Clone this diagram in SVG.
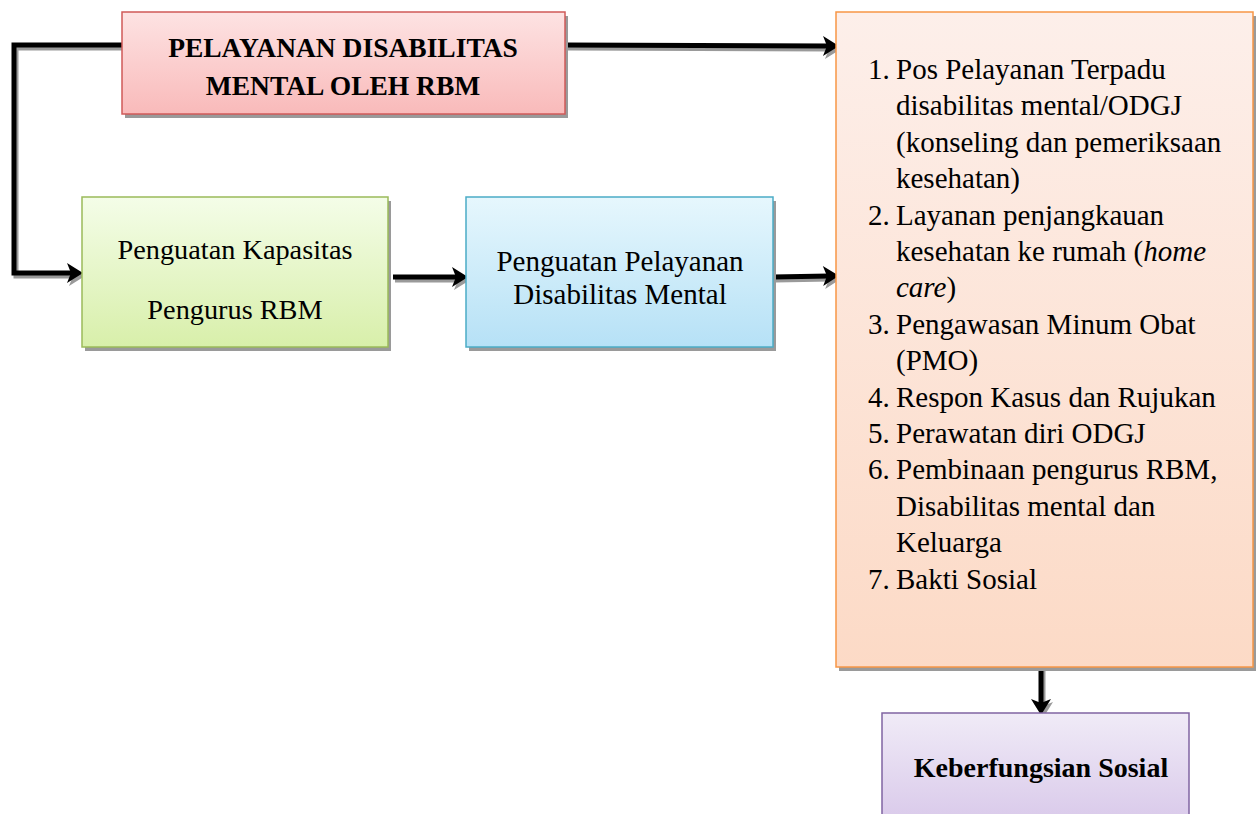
<svg xmlns="http://www.w3.org/2000/svg" width="1256" height="814" viewBox="0 0 1256 814">
<defs>
<linearGradient id="gRed" x1="0" y1="0" x2="0" y2="1"><stop offset="0" stop-color="#fde3e3"/><stop offset="1" stop-color="#f9baba"/></linearGradient>
<linearGradient id="gGreen" x1="0" y1="0" x2="0" y2="1"><stop offset="0" stop-color="#f4fde8"/><stop offset="1" stop-color="#d8efaa"/></linearGradient>
<linearGradient id="gBlue" x1="0" y1="0" x2="0" y2="1"><stop offset="0" stop-color="#e6f7fd"/><stop offset="1" stop-color="#b6e1f6"/></linearGradient>
<linearGradient id="gOrange" x1="0" y1="0" x2="0" y2="1"><stop offset="0" stop-color="#fdefea"/><stop offset="1" stop-color="#fcdac6"/></linearGradient>
<linearGradient id="gPurple" x1="0" y1="0" x2="0" y2="1"><stop offset="0" stop-color="#f0ebf7"/><stop offset="1" stop-color="#d9c9ea"/></linearGradient>
<marker id="ah" markerUnits="userSpaceOnUse" markerWidth="20" markerHeight="24" refX="6" refY="10" orient="auto" viewBox="0 0 20 20" overflow="visible">
<path d="M0,0 L16,10 L0,20 L4,10 Z" fill="#000"/>
</marker>
<marker id="ahs" markerUnits="userSpaceOnUse" markerWidth="20" markerHeight="24" refX="6" refY="10" orient="auto" viewBox="0 0 20 20" overflow="visible">
<path d="M0,0 L16,10 L0,20 L4,10 Z" fill="#9a9a9a"/>
</marker>
</defs>
<style>
.shadow{fill:#9a9a9a}
text{font-family:'Liberation Serif','Times New Roman',serif;fill:#000}
.tb{font-weight:bold}
.c{stroke:#000;stroke-width:5;fill:none;marker-end:url(#ah)}
.cs{stroke:#9a9a9a;stroke-width:5;fill:none;marker-end:url(#ahs)}
</style>

<g id="connectors">
<g transform="translate(2,3)">
<path class="cs" d="M122,45 L14,45 L14,273 L73,273"/>
<path class="cs" d="M565,45 L829,46"/>
<path class="cs" d="M393,277 L458,277"/>
<path class="cs" d="M773,277 L829,276"/>
<path class="cs" d="M1041,667 L1041,705"/>
</g>
<path class="c" d="M122,45 L14,45 L14,273 L73,273"/>
<path class="c" d="M565,45 L829,46"/>
<path class="c" d="M393,277 L458,277"/>
<path class="c" d="M773,277 L829,276"/>
<path class="c" d="M1041,667 L1041,705"/>
</g>

<g id="node-red">
<rect class="shadow" x="125" y="16" width="443" height="102"/>
<rect x="122" y="12" width="443" height="102" fill="url(#gRed)" stroke="#d05a58" stroke-width="1.5"/>
<text class="tb" font-size="27.5" text-anchor="middle" x="343" y="57">PELAYANAN DISABILITAS</text>
<text class="tb" font-size="27.5" text-anchor="middle" x="343" y="95">MENTAL OLEH RBM</text>
</g>

<g id="node-green">
<rect class="shadow" x="85" y="201" width="306" height="150"/>
<rect x="82" y="197" width="306" height="150" fill="url(#gGreen)" stroke="#9bbb59" stroke-width="1.5"/>
<text font-size="28.3" text-anchor="middle" x="235" y="259">Penguatan Kapasitas</text>
<text font-size="28.3" text-anchor="middle" x="235" y="319">Pengurus RBM</text>
</g>

<g id="node-blue">
<rect class="shadow" x="469" y="201" width="307" height="150"/>
<rect x="466" y="197" width="307" height="150" fill="url(#gBlue)" stroke="#4bacc6" stroke-width="1.5"/>
<text font-size="29" text-anchor="middle" x="620" y="271">Penguatan Pelayanan</text>
<text font-size="29" text-anchor="middle" x="620" y="304">Disabilitas Mental</text>
</g>

<g id="node-orange">
<rect class="shadow" x="839" y="16" width="417" height="655"/>
<rect x="836" y="12" width="417" height="655" fill="url(#gOrange)" stroke="#f79646" stroke-width="1.5"/>
<text font-size="29">
<tspan x="868" y="79">1.</tspan><tspan x="896" y="79">Pos Pelayanan Terpadu</tspan>
<tspan x="896" y="115.4">disabilitas mental/ODGJ</tspan>
<tspan x="896" y="151.8">(konseling dan pemeriksaan</tspan>
<tspan x="896" y="188.2">kesehatan)</tspan>
<tspan x="868" y="224.6">2.</tspan><tspan x="896" y="224.6">Layanan penjangkauan</tspan>
<tspan x="896" y="261">kesehatan ke rumah (<tspan font-style="italic">home</tspan></tspan>
<tspan x="896" y="297.4"><tspan font-style="italic">care</tspan>)</tspan>
<tspan x="868" y="333.8">3.</tspan><tspan x="896" y="333.8">Pengawasan Minum Obat</tspan>
<tspan x="896" y="370.2">(PMO)</tspan>
<tspan x="868" y="406.6">4.</tspan><tspan x="896" y="406.6">Respon Kasus dan Rujukan</tspan>
<tspan x="868" y="443">5.</tspan><tspan x="896" y="443">Perawatan diri ODGJ</tspan>
<tspan x="868" y="479.4">6.</tspan><tspan x="896" y="479.4">Pembinaan pengurus RBM,</tspan>
<tspan x="896" y="515.8">Disabilitas mental dan</tspan>
<tspan x="896" y="552.2">Keluarga</tspan>
<tspan x="868" y="588.6">7.</tspan><tspan x="896" y="588.6">Bakti Sosial</tspan>
</text>
</g>

<g id="node-purple">
<rect x="882" y="713" width="307" height="110" fill="url(#gPurple)" stroke="#8064a2" stroke-width="1.5"/>
<text class="tb" font-size="28" text-anchor="middle" x="1041" y="777">Keberfungsian Sosial</text>
</g>
</svg>
